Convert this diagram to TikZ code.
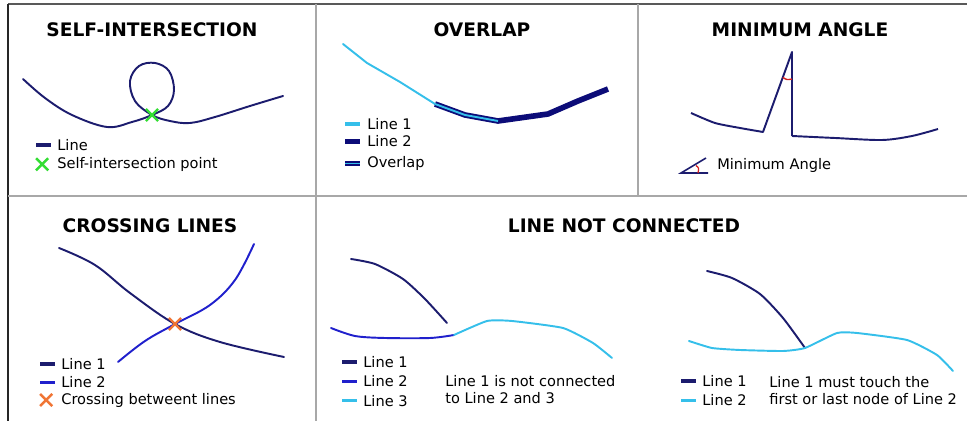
\documentclass[tikz,border=0pt]{standalone}
\usepackage{fontspec}
\setmainfont{DejaVu Sans}
\usepackage{tikz}
\usetikzlibrary{positioning,shapes.misc}

\definecolor{navyline}{HTML}{1C1C6E}
\definecolor{blueline}{HTML}{2020CC}
\definecolor{cyanline}{HTML}{35BFEA}
\definecolor{darkline}{HTML}{0C0C78}
\definecolor{crossgreen}{HTML}{33DD33}
\definecolor{crossorange}{HTML}{F07535}
\definecolor{anglered}{HTML}{D42020}
\definecolor{framegray}{HTML}{A8A8A8}

\begin{document}
\begin{tikzpicture}[x=0.02cm,y=-0.02cm]
   \tikzset{
     title/.style     = { font = \fontsize{10.6}{12}\selectfont\bfseries },
     legtext/.style   = { font        = \fontsize{8.3}{10}\selectfont,
                          anchor      = west,
                          inner sep   = 0pt },
     curve/.style     = { line width = 1.1pt, line join = round, line cap = round },
     sample/.style    = { line width = 2pt },
     divider/.style   = { draw = framegray, line width = 0.9pt },
     crossmark/.style = { cross out, draw, line width = 1.4pt,
                          minimum size = 5.5pt, inner sep = 0pt },
  }

  % frame
  \path [use as bounding box] (0,0) rectangle (967,421);
  \draw [line width = 1.4pt, draw = black!65] (8,4) -- (967,4);
  \draw [line width = 1.1pt, draw = black!85] (8,4) -- (8,421);
  \draw [divider] (8,196) -- (967,196);
  \draw [divider] (316,4) -- (316,421);
  \draw [divider] (638,4) -- (638,196);

  % titles
  \node [title] (tSelf)  at (152,30)  {SELF-INTERSECTION};
  \node [title] (tOver)  at (482,30)  {OVERLAP};
  \node [title] (tAngle) at (800,30)  {MINIMUM ANGLE};
  \node [title] (tCross) at (150,226) {CROSSING LINES};
  \node [title] (tConn)  at (624,226) {LINE NOT CONNECTED};

  % self-intersection
  \draw [curve, navyline] plot [smooth, tension = 0.6] coordinates {
      (23,79) (45,98) (72,115) (107,127) (132,122) (152,115) (168,106)
      (174,90) (169,71) (155,63) (139,66) (130,81) (135,101) (152,115)
      (170,121) (190,123) (215,117) (250,106) (283,96)};
  \node [crossmark, crossgreen] (xSelf) at (152,115) {};
  \node [legtext] (lSelfA) at (57,145) {Line};
  \node [legtext, below = 11pt of lSelfA.west, anchor = west] (lSelfB) {Self-intersection point};
  \draw [sample, navyline] (lSelfA.west) ++(-21,0) -- ++(15,0);
  \node [crossmark, crossgreen, left = 5pt of lSelfB.west] (xSelfLeg) {};

  % overlap
  \draw [curve, cyanline] (343,44) -- (367,63) -- (400,82) -- (435,104);
  \draw [darkline, line width = 3.2pt, line join = round]
      (435,104) -- (465,115) -- (498,121) -- (548,114) -- (578,101) -- (608,89);
  \draw [cyanline, line width = 1.1pt, line join = round]
      (435,104) -- (465,115) -- (498,121);
  \node [legtext] (lOverA) at (367,124) {Line 1};
  \node [legtext, below = 10pt of lOverA.west, anchor = west] (lOverB) {Line 2};
  \node [legtext, below = 12.5pt of lOverB.west, anchor = west] (lOverC) {Overlap};
  \draw [sample, cyanline] (lOverA.west) ++(-22,0) -- ++(15,0);
  \draw [darkline, line width = 3pt] (lOverB.west) ++(-22,0) -- ++(15,0);
  \draw [darkline, line width = 3pt] (lOverC.west) ++(-22,0) -- ++(15,0);
  \draw [cyanline, line width = 1pt] (lOverC.west) ++(-22,0) -- ++(15,0);

  % minimum angle
  \draw [curve, navyline, line cap = butt]
      plot [smooth, tension = 0.4] coordinates {(691,113) (715,123) (740,128) (763,132)}
      -- (792,52) -- (792,136)
      plot [smooth, tension = 0.5] coordinates {(792,136) (835,138) (882,140) (912,136) (938,129)};
  \draw [anglered, line width = 0.8pt] (782.8,77.4) .. controls (787,80) .. (792,79);
  \draw [navyline, line width = 0.9pt] (706,158) -- (681,173) -- (708,173);
  \draw [anglered, line width = 0.7pt] (696,165.5) .. controls (699,168) .. (698,173);
  \node [legtext] (lAngle) at (717,165) {Minimum Angle};

  % crossing lines
  \draw [curve, navyline] plot [smooth, tension = 0.6] coordinates {
      (59,248) (95,265) (130,293) (175,324) (220,342) (284,357)};
  \draw [curve, blueline] plot [smooth, tension = 0.6] coordinates {
      (118,362) (145,341) (175,324) (210,305) (235,280) (254,244)};
  \node [crossmark, crossorange] (xCross) at (175,324) {};
  \node [legtext] (lCrossA) at (61,364) {Line 1};
  \node [legtext, below = 10.5pt of lCrossA.west, anchor = west] (lCrossB) {Line 2};
  \node [legtext, below = 10pt of lCrossB.west, anchor = west] (lCrossC) {Crossing betweent lines};
  \draw [sample, navyline] (lCrossA.west) ++(-21,0) -- ++(15,0);
  \draw [sample, blueline] (lCrossB.west) ++(-21,0) -- ++(15,0);
  \node [crossmark, crossorange, left = 5pt of lCrossC.west] (xCrossLeg) {};

  % line not connected: left case
  \draw [curve, navyline] plot [smooth, tension = 0.4] coordinates {
      (351,259) (375,264) (403,279) (425,299) (447,323)};
  \draw [curve, blueline] plot [smooth, tension = 0.5] coordinates {
      (331,328) (355,336) (385,338) (430,338) (454,335)};
  \draw [curve, cyanline] plot [smooth, tension = 0.3] coordinates {
      (454,335) (487,321) (512,321) (563,328) (593,343) (612,358)};
  \node [legtext] (lConnA) at (363,362) {Line 1};
  \node [legtext, below = 11pt of lConnA.west, anchor = west] (lConnB) {Line 2};
  \node [legtext, below = 11pt of lConnB.west, anchor = west] (lConnC) {Line 3};
  \draw [sample, navyline] (lConnA.west) ++(-21,0) -- ++(15,0);
  \draw [sample, blueline] (lConnB.west) ++(-21,0) -- ++(15,0);
  \draw [sample, cyanline] (lConnC.west) ++(-21,0) -- ++(15,0);
  \node [legtext, align = left, anchor = north west] (nConnA) at (445,375)
      {Line 1 is not connected\\to Line 2 and 3};

  % line not connected: right case
  \draw [curve, navyline] plot [smooth, tension = 0.4] coordinates {
      (707,271) (732,278) (760,294) (783,318) (805,348)};
  \draw [curve, cyanline] plot [smooth, tension = 0.3] coordinates {
      (689,341) (712,348) (740,350) (783,351) (805,348) (837,333) (857,333)
      (907,340) (937,355) (953,371)};
  \node [legtext] (lTouchA) at (702,381) {Line 1};
  \node [legtext, below = 11pt of lTouchA.west, anchor = west] (lTouchB) {Line 2};
  \draw [sample, navyline] (lTouchA.west) ++(-21,0) -- ++(15,0);
  \draw [sample, cyanline] (lTouchB.west) ++(-21,0) -- ++(15,0);
  \node [legtext, align = left, anchor = north west] (nTouchA) at (769,376)
      {Line 1 must touch the\\first or last node of Line 2};

\end{tikzpicture}
\end{document}
